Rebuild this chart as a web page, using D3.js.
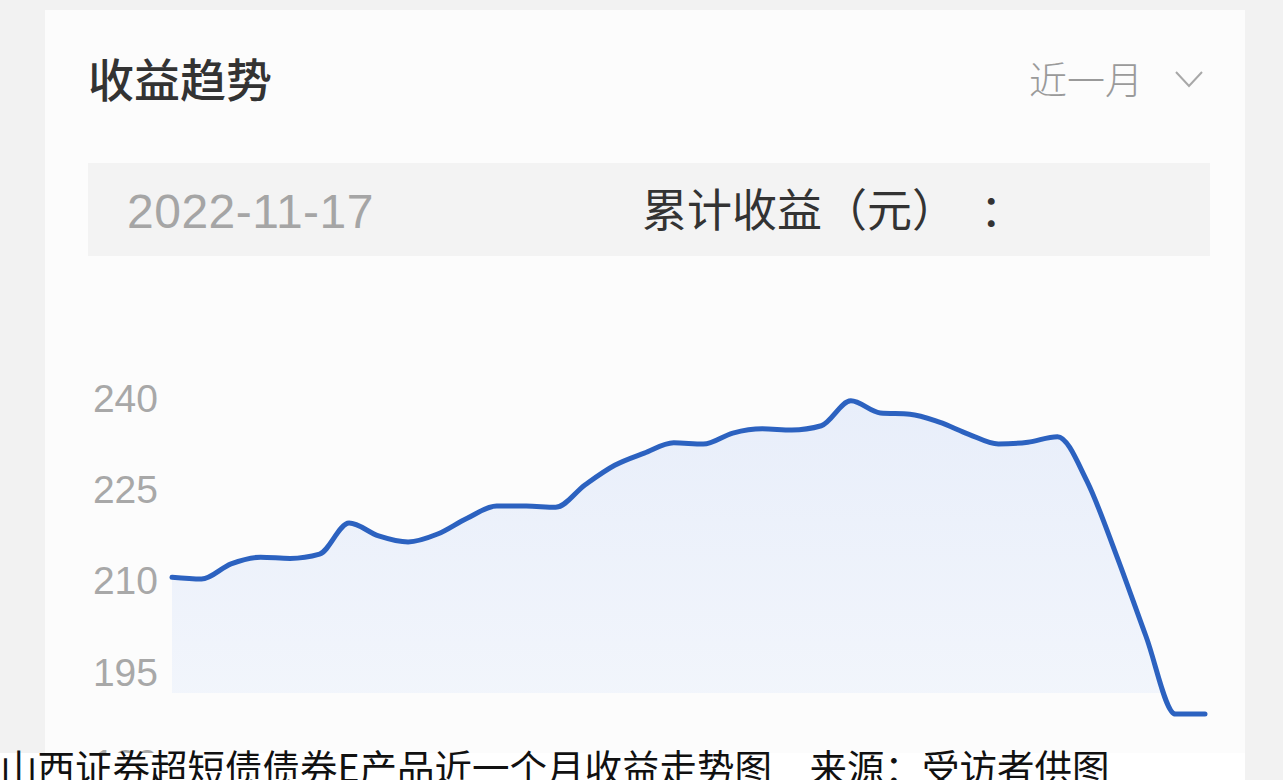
<!DOCTYPE html>
<html>
<head>
<meta charset="utf-8">
<script src="https://cdn.jsdelivr.net/npm/d3@7"></script>
<style>
  html, body { margin: 0; padding: 0; background: #f2f2f2; }
  svg { display: block; }
</style>
</head>
<body>
<div id="chart"></div>
<script>
const width = 1283
const height = 780

// cumulative income (yuan), one reading per step along the last month
const values = [
  210.7, 210.4, 212.9, 214.0, 213.8, 214.5, 219.6, 217.5, 216.5, 217.8,
  220.4, 222.4, 222.4, 222.2, 225.9, 229.1, 231.1, 232.8, 232.6, 234.4,
  235.1, 234.9, 235.6, 239.7, 237.7, 237.5, 236.2, 234.2, 232.6, 232.9,
  233.8, 226.5, 214.3, 201.0, 188.2, 188.2
]
const yTicks = [180, 195, 210, 225, 240]
const titleText = "收益趋势"
const rangeText = "近一月"
const dateText = "2022-11-17"
const incomeLabel = "累计收益（元）"
const captionText = "山西证券超短债债券E产品近一个月收益走势图　来源：受访者供图"

const svg = d3.select("#chart")
  .append("svg")
  .attr("width", width)
  .attr("height", height)

// page background and card
svg.append("rect").attr("width", width).attr("height", height).attr("fill", "#f2f2f2")
svg.append("rect")
  .attr("x", 45).attr("y", 10)
  .attr("width", 1200).attr("height", height - 10)
  .attr("fill", "#fcfcfc")

// header
svg.append("text")
  .attr("x", 88).attr("y", 97)
  .attr("font-family", "'Noto Sans CJK SC', sans-serif")
  .attr("font-size", 46)
  .attr("font-weight", 500)
  .attr("fill", "#333")
  .text(titleText)

svg.append("text")
  .attr("x", 1029).attr("y", 94)
  .attr("font-family", "'Noto Sans CJK SC', sans-serif")
  .attr("font-size", 38)
  .attr("font-weight", 300)
  .attr("fill", "#9a9a9a")
  .text(rangeText)

svg.append("path")
  .attr("d", "M1176,72 L1189,86 L1202,72")
  .attr("fill", "none")
  .attr("stroke", "#a8a8a8")
  .attr("stroke-width", 2)

// info box
svg.append("rect")
  .attr("x", 88).attr("y", 163)
  .attr("width", 1122).attr("height", 93)
  .attr("fill", "#f3f3f3")

svg.append("text")
  .attr("x", 127).attr("y", 228)
  .attr("font-family", "'Liberation Sans', Arial, sans-serif")
  .attr("font-size", 48)
  .attr("letter-spacing", 0.5)
  .attr("fill", "#a5a5a5")
  .text(dateText)

svg.append("text")
  .attr("x", 642).attr("y", 227)
  .attr("font-family", "'Noto Sans CJK SC', sans-serif")
  .attr("font-size", 45)
  .attr("fill", "#333")
  .text(incomeLabel)

svg.append("text")
  .attr("x", 980).attr("y", 227)
  .attr("font-family", "'Noto Sans CJK SC', sans-serif")
  .attr("font-size", 45)
  .attr("fill", "#333")
  .text("：")

// chart
const x = d3.scaleLinear()
  .domain([0, values.length - 1])
  .range([172, 1205])

const y = d3.scaleLinear()
  .domain([180, 240])
  .range([764, 399])

const defs = svg.append("defs")
const grad = defs.append("linearGradient")
  .attr("id", "fillGrad")
  .attr("x1", 0).attr("y1", 0).attr("x2", 0).attr("y2", 1)
grad.append("stop").attr("offset", "0%").attr("stop-color", "#e8eefa")
grad.append("stop").attr("offset", "100%").attr("stop-color", "#f4f7fc")

defs.append("clipPath").attr("id", "fillClip")
  .append("rect")
  .attr("x", 0).attr("y", 0)
  .attr("width", width).attr("height", 693)

const area = d3.area()
  .x((d, i) => x(i))
  .y0(y(180))
  .y1(d => y(d))
  .curve(d3.curveMonotoneX)

const line = d3.line()
  .x((d, i) => x(i))
  .y(d => y(d))
  .curve(d3.curveMonotoneX)

svg.append("path")
  .datum(values)
  .attr("clip-path", "url(#fillClip)")
  .attr("fill", "url(#fillGrad)")
  .attr("d", area)

const yAxis = svg.append("g")
  .attr("transform", "translate(172,0)")
  .call(d3.axisLeft(y).tickValues(yTicks).tickSize(0).tickPadding(14))

yAxis.select(".domain").remove()
yAxis.selectAll("text")
  .attr("font-family", "'Liberation Sans', Arial, sans-serif")
  .attr("font-size", 39)
  .attr("fill", "#a8a8a8")

svg.append("path")
  .datum(values)
  .attr("fill", "none")
  .attr("stroke", "#2c62c0")
  .attr("stroke-width", 5)
  .attr("stroke-linecap", "round")
  .attr("stroke-linejoin", "round")
  .attr("d", line)

// caption strip across the bottom
svg.append("rect")
  .attr("x", 0).attr("y", 753)
  .attr("width", 1245).attr("height", height - 753)
  .attr("fill", "#ffffff")

svg.append("text")
  .attr("x", 0).attr("y", 782)
  .attr("font-family", "'Noto Sans CJK SC', sans-serif")
  .attr("font-size", 37.5)
  .attr("fill", "#111")
  .text(captionText)
</script>
</body>
</html>
